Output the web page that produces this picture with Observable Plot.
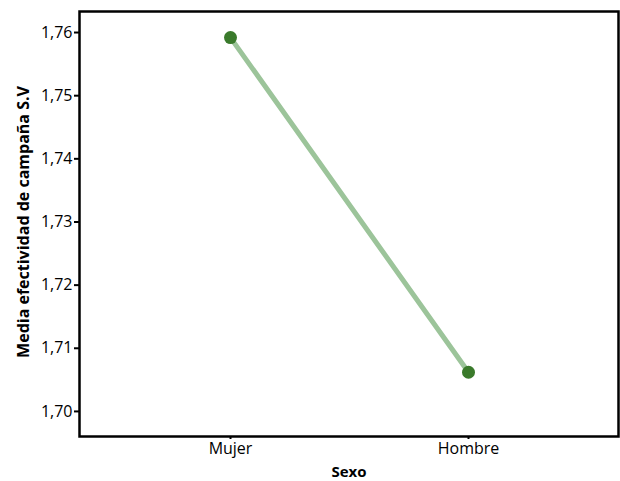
<!DOCTYPE html>
<html>
<head>
<meta charset="utf-8">
<script src="https://cdn.jsdelivr.net/npm/d3@7"></script>
<script src="https://cdn.jsdelivr.net/npm/@observablehq/plot@0.6"></script>
<style>
  html, body { margin: 0; padding: 0; background: #fff; }
  svg { display: block; }
</style>
</head>
<body>
<div id="chart"></div>
<script>
const categories = ["Mujer", "Hombre"];
const means = [1.7592, 1.7062];
const yTicks = [1.70, 1.71, 1.72, 1.73, 1.74, 1.75, 1.76];

const data = categories.map((c, i) => ({sexo: c, media: means[i]}));
const fmt = d => d3.format(".2f")(d).replace(".", ",");
const font = "'Open Sans', sans-serif";

const chart = Plot.plot({
  width: 620,
  height: 481,
  marginLeft: 79,
  marginRight: 2,
  marginTop: 11,
  marginBottom: 45,
  style: {fontFamily: font, fontSize: "16px", color: "#000", background: "#fff"},
  x: {type: "point", domain: categories, padding: 0.632, label: null},
  y: {domain: [1.69603, 1.76333], label: null},
  marks: [
    Plot.axisY({ticks: yTicks, tickFormat: fmt, tickSize: 5, tickPadding: 2, stroke: "#000", strokeWidth: 2, fontSize: 16, label: null}),
    Plot.axisX({tickSize: 3, tickPadding: 3, stroke: "#000", strokeWidth: 2, fontSize: 16, label: "Sexo", labelAnchor: "center", labelOffset: 40, labelArrow: false}),
    Plot.line(data, {x: "sexo", y: "media", stroke: "#9cc49a", strokeWidth: 5}),
    Plot.dot(data, {x: "sexo", y: "media", r: 6.5, fill: "#3a7a2b", stroke: "none"}),
    Plot.frame({stroke: "#000", strokeWidth: 2.5}),
    Plot.text(["Media efectividad de campaña S.V"], {frameAnchor: "left", text: d => d, rotate: -90, textAnchor: "middle", dx: -56, dy: -2, fontWeight: "bold", fontSize: 16})
  ]
});
chart.querySelectorAll("[aria-label='x-axis label'] text").forEach(t => { t.setAttribute("font-weight", "bold"); t.setAttribute("font-size", "15"); });
document.getElementById("chart").appendChild(chart);
</script>
</body>
</html>
